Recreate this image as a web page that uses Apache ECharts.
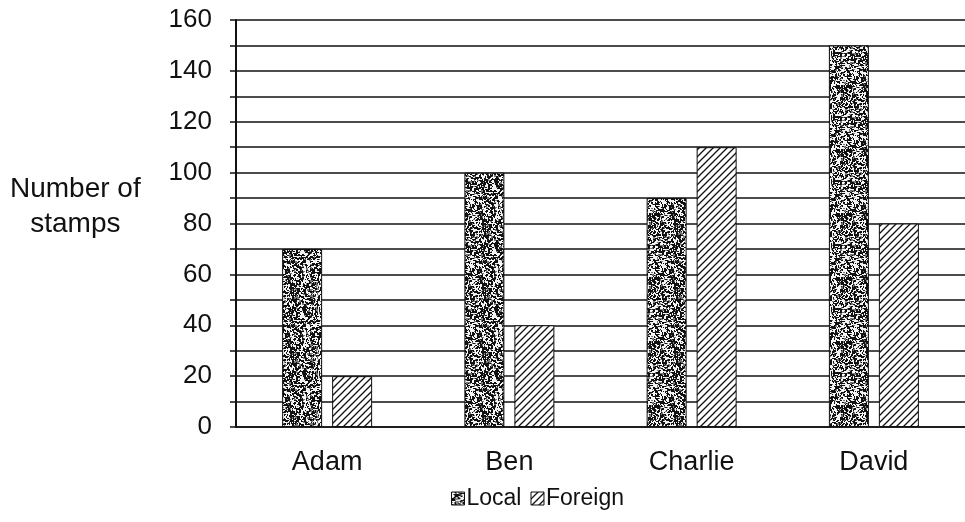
<!DOCTYPE html>
<html><head><meta charset="utf-8">
<script src="https://cdn.jsdelivr.net/npm/echarts@6/dist/echarts.min.js"></script>
<style>html,body{margin:0;padding:0;background:#fff}#c{width:965px;height:522px}</style>
</head><body><div id="c"></div>
<script>
const categories = ['Adam', 'Ben', 'Charlie', 'David'];
const localValues = [70, 100, 90, 150];
const foreignValues = [20, 40, 110, 80];
const seriesNames = ['Local', 'Foreign'];
const yAxisTitle = 'Number of\nstamps';

function makeNoise() {
  const n = 64;
  const c = document.createElement('canvas');
  c.width = n; c.height = n;
  const ctx = c.getContext('2d');
  ctx.fillStyle = '#f2f2f2'; ctx.fillRect(0, 0, n, n);
  let s = 987654;
  const rnd = () => { s = (s * 16807) % 2147483647; return s / 2147483647; };
  for (let i = 0; i < 2200; i++) {
    const r = rnd();
    ctx.fillStyle = r < 0.72 ? '#111' : (r < 0.86 ? '#777' : '#fafafa');
    ctx.fillRect(Math.floor(rnd() * n), Math.floor(rnd() * n), 1 + Math.floor(rnd() * 2), 1 + Math.floor(rnd() * 2));
  }
  return c;
}
function makeHatch() {
  const n = 7;
  const c = document.createElement('canvas');
  c.width = n; c.height = n;
  const ctx = c.getContext('2d');
  ctx.fillStyle = '#fff'; ctx.fillRect(0, 0, n, n);
  ctx.strokeStyle = '#111'; ctx.lineWidth = 1.3;
  ctx.beginPath();
  ctx.moveTo(-1, n + 1); ctx.lineTo(n + 1, -1);
  ctx.moveTo(-1, 1); ctx.lineTo(1, -1);
  ctx.moveTo(n - 1, n + 1); ctx.lineTo(n + 1, n - 1);
  ctx.stroke();
  return c;
}
const noisePat = { image: makeNoise(), repeat: 'repeat' };
const hatchPat = { image: makeHatch(), repeat: 'repeat' };

const chart = echarts.init(document.getElementById('c'), null, { renderer: 'canvas' });
const font = '"Liberation Sans", Arial, sans-serif';
chart.setOption({
  animation: false,
  backgroundColor: '#fff',
  textStyle: { fontFamily: font, color: '#111' },
  grid: { left: 236, right: -5, top: 20, bottom: 95 },
  legend: {
    data: seriesNames,
    left: 446, top: 482,
    itemWidth: 13, itemHeight: 13, itemGap: 9,
    icon: 'rect',
    textStyle: { fontFamily: font, fontSize: 23, color: '#111', padding: [0, 0, 0, -3] },
    itemStyle: { borderColor: '#111', borderWidth: 1 }
  },
  graphic: [{
    type: 'text', left: 10, top: 172,
    style: { text: yAxisTitle, font: '28px ' + font, fill: '#111', textAlign: 'center', lineHeight: 35 }
  }],
  xAxis: {
    type: 'category', data: categories,
    axisLine: { lineStyle: { color: '#111', width: 1.5 } },
    axisTick: { show: false },
    axisLabel: { fontSize: 27, color: '#111', margin: 22, fontFamily: font }
  },
  yAxis: {
    type: 'value', min: 0, max: 160, interval: 10,
    axisLine: { show: true, lineStyle: { color: '#111', width: 2 } },
    axisTick: { show: true, length: 6, lineStyle: { color: '#111', width: 1.5 } },
    splitLine: { lineStyle: { color: '#111', width: 1.5 } },
    axisLabel: {
      fontSize: 26, color: '#111', margin: 24, fontFamily: font,
      formatter: v => (v % 20 === 0 ? String(v) : '')
    }
  },
  series: [
    { name: seriesNames[0], type: 'bar', data: localValues, barWidth: 40, barGap: '25%',
      itemStyle: { color: noisePat, borderColor: '#111', borderWidth: 1 } },
    { name: seriesNames[1], type: 'bar', data: foreignValues, barWidth: 40,
      itemStyle: { color: hatchPat, borderColor: '#111', borderWidth: 1 } }
  ]
});
</script></body></html>
